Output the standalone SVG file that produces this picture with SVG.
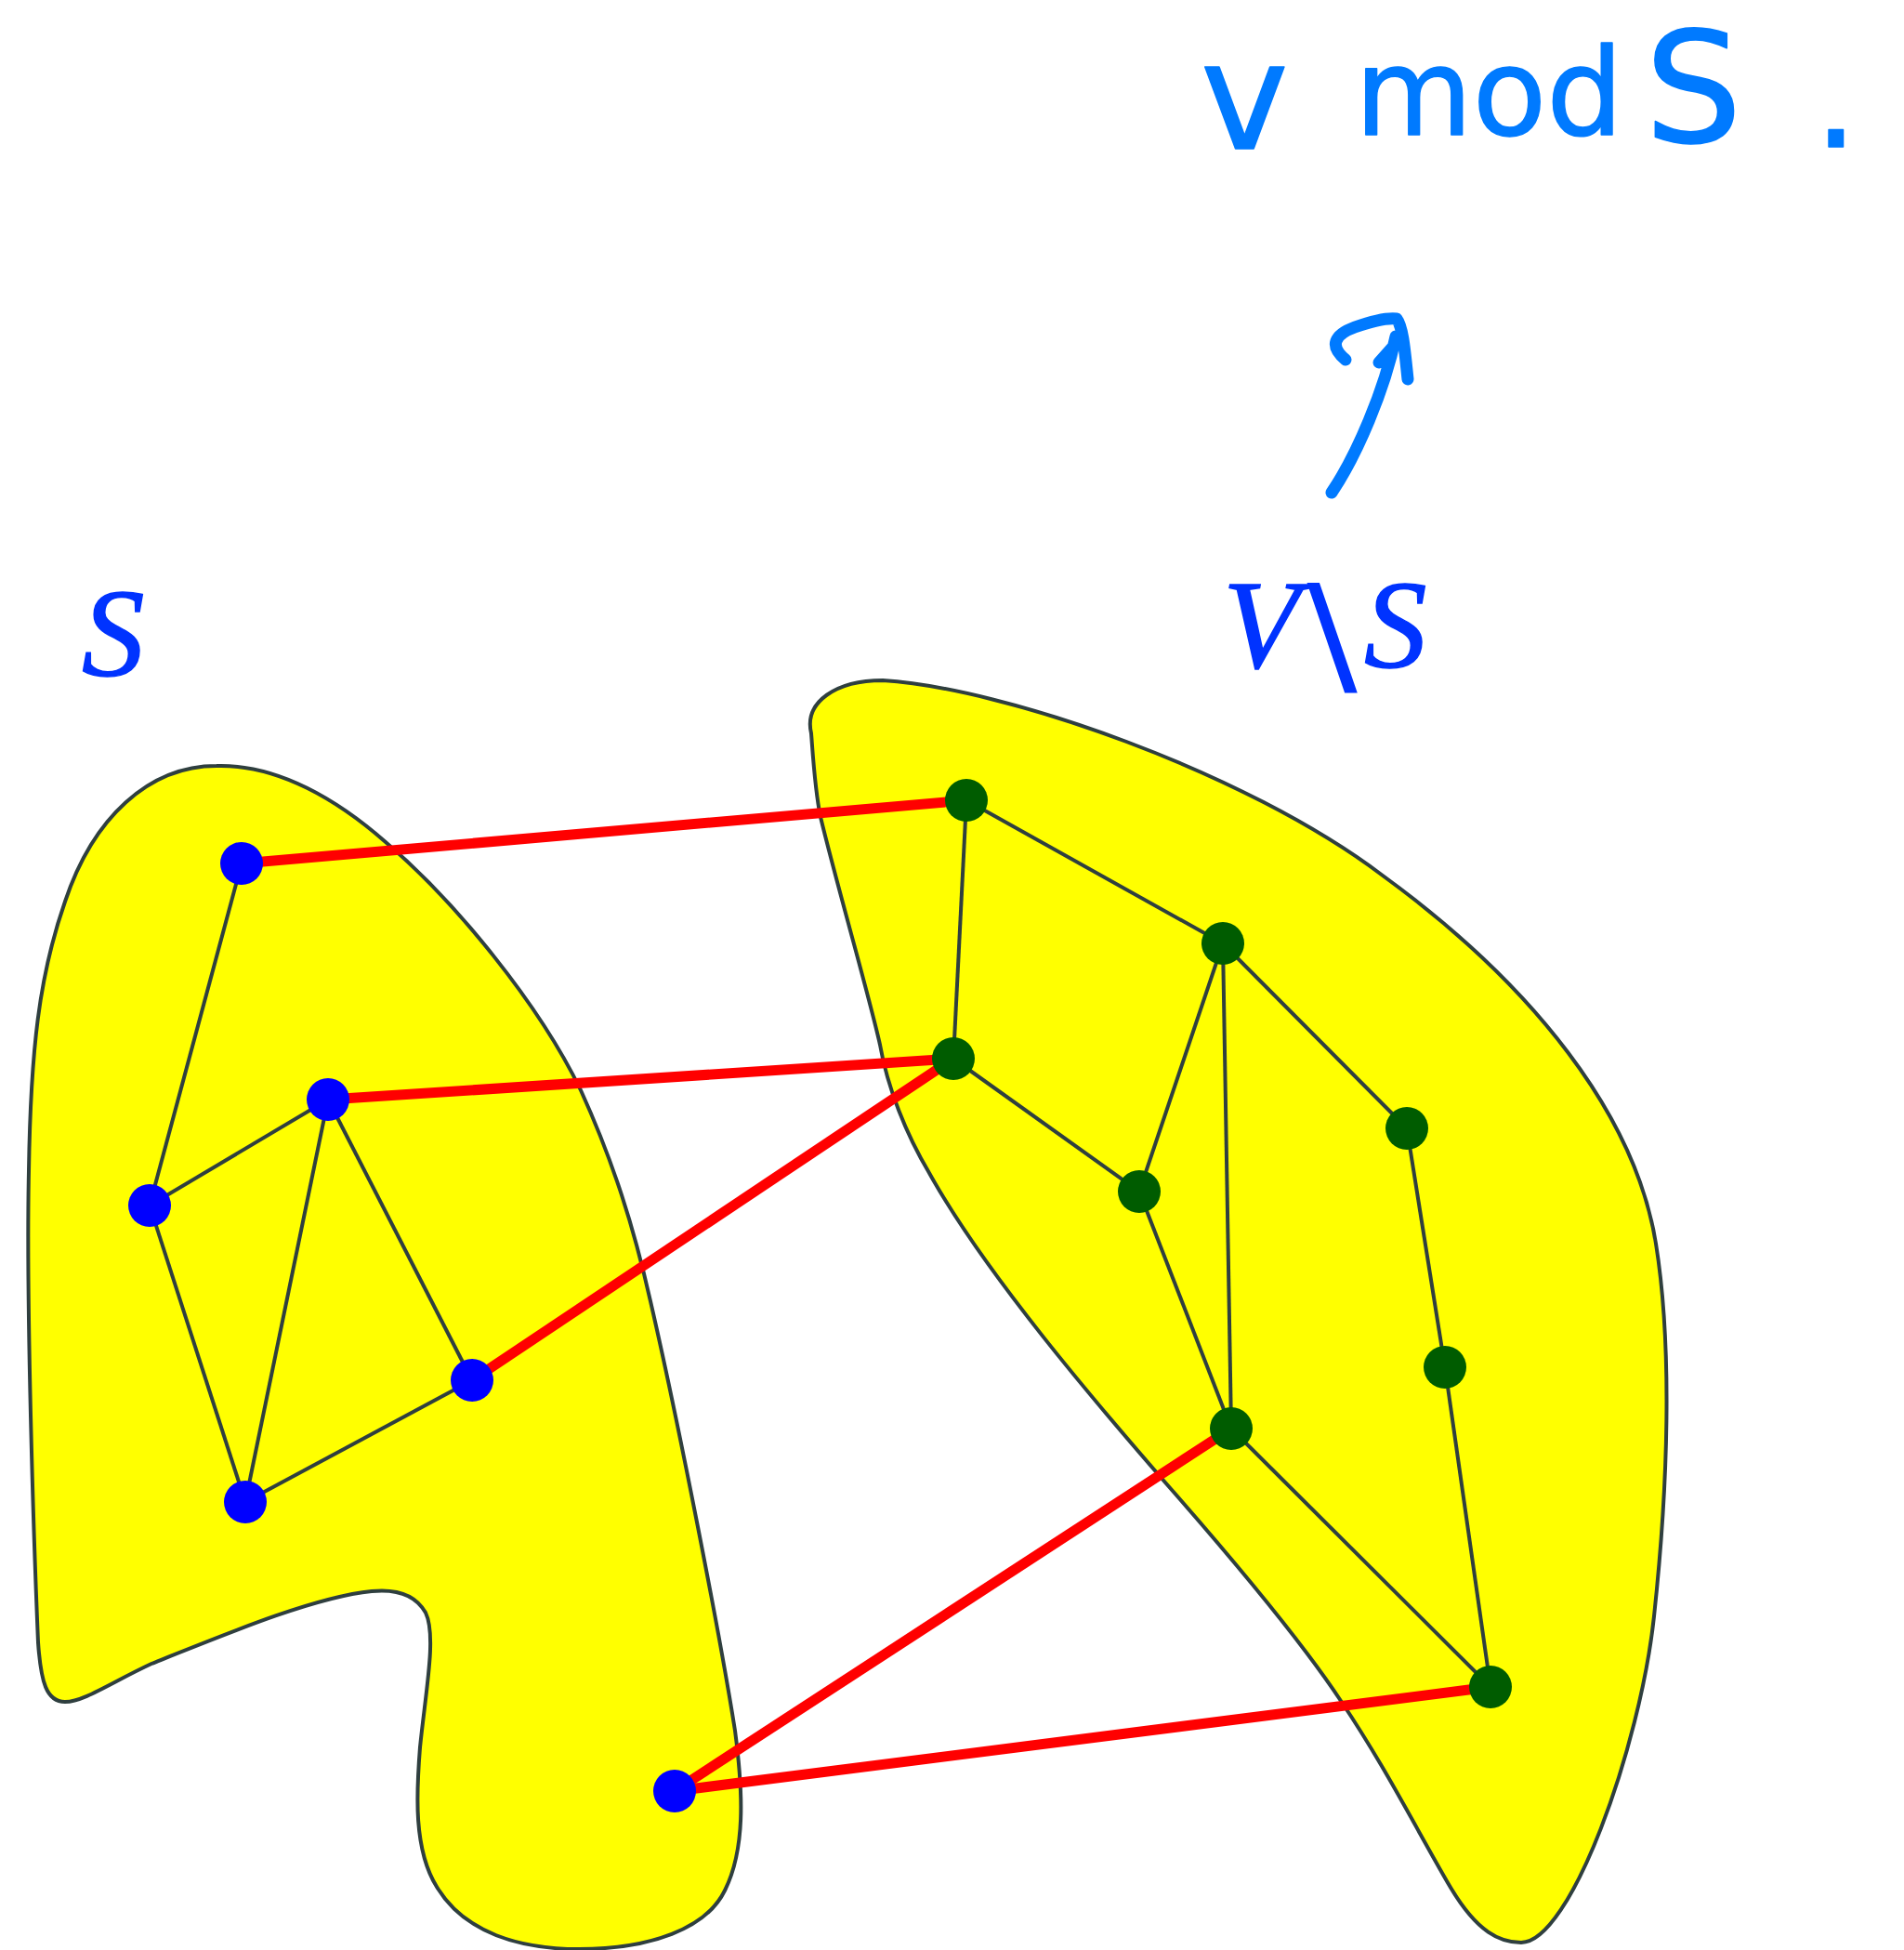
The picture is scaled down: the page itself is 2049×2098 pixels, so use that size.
<svg xmlns="http://www.w3.org/2000/svg" width="2049" height="2098" viewBox="0 0 2049 2098">
<style>
.blob{fill:#ffff00;stroke:#2f3f3f;stroke-width:4;stroke-linejoin:round}
.e{stroke:#2f3f3f;stroke-width:4;fill:none}
.r{stroke:#ff0000;stroke-width:11;fill:none}
.b{fill:#0000ff}
.g{fill:#005c00}
.lbl{font-family:"Liberation Serif","Times New Roman",serif;font-style:italic;fill:#0033ff;stroke:#0033ff;stroke-width:1.5;font-size:135px}
.hw{font-family:"DejaVu Sans",sans-serif;fill:#007aff;stroke:#007aff;stroke-width:1.5;stroke-linejoin:round}
.hwl{fill:none;stroke:#007aff;stroke-width:13;stroke-linecap:round;stroke-linejoin:round}
</style>
<rect width="2049" height="2098" fill="#ffffff"/>
<g id="region-S">
<path class="blob" d="M 233,824 C 300,822 365,862 415,906 C 490,970 580,1080 625,1173 C 660,1250 682,1320 700,1400 C 730,1530 775,1760 791,1862 C 800,1930 802,1990 780,2034 C 760,2075 700,2097 623,2097 C 560,2097 500,2080 470,2030 C 445,1990 448,1930 452,1880 C 458,1820 470,1760 458,1735 C 445,1712 420,1710 400,1712 C 340,1718 250,1755 163,1790 C 120,1810 90,1831 70,1831 C 50,1831 44,1810 41,1767 C 36,1650 28,1400 31,1260 C 33,1130 42,1050 70,970 C 100,880 160,824 233,824 Z"/>
</g>
<g id="region-VS">
<path class="blob" d="M 873,789 C 865,755 900,732 950,732 C 1080,740 1340,830 1488,942 C 1650,1060 1760,1200 1782,1338 C 1800,1450 1795,1600 1780,1739 C 1765,1880 1690,2090 1637,2090 C 1615,2090 1590,2080 1560,2029 C 1520,1960 1490,1900 1443,1830 C 1400,1765 1320,1670 1254,1595 C 1180,1510 1060,1370 1000,1262 C 975,1220 955,1170 947,1124 C 935,1070 900,950 883,879 C 877,850 875,815 873,789 Z"/>
</g>
<g id="connectors">
<line class="e" x1="260" y1="929" x2="161" y2="1297"/>
<line class="e" x1="161" y1="1297" x2="353" y2="1183"/>
<line class="e" x1="161" y1="1297" x2="264" y2="1616"/>
<line class="e" x1="353" y1="1183" x2="264" y2="1616"/>
<line class="e" x1="353" y1="1183" x2="508" y2="1485"/>
<line class="e" x1="508" y1="1485" x2="264" y2="1616"/>
<line class="e" x1="1040" y1="861" x2="1026" y2="1139"/>
<line class="e" x1="1040" y1="861" x2="1316" y2="1015"/>
<line class="e" x1="1316" y1="1015" x2="1226" y2="1282"/>
<line class="e" x1="1316" y1="1015" x2="1325" y2="1537"/>
<line class="e" x1="1316" y1="1015" x2="1514" y2="1214"/>
<line class="e" x1="1026" y1="1139" x2="1226" y2="1282"/>
<line class="e" x1="1226" y1="1282" x2="1325" y2="1537"/>
<line class="e" x1="1514" y1="1214" x2="1555" y2="1471"/>
<line class="e" x1="1555" y1="1471" x2="1604" y2="1815"/>
<line class="e" x1="1325" y1="1537" x2="1604" y2="1815"/>
<line class="r" x1="260" y1="929" x2="1040" y2="861"/>
<line class="r" x1="353" y1="1183" x2="1026" y2="1139"/>
<line class="r" x1="508" y1="1485" x2="1026" y2="1139"/>
<line class="r" x1="726" y1="1927" x2="1325" y2="1537"/>
<line class="r" x1="726" y1="1927" x2="1604" y2="1815"/>
</g>
<g id="s1"><circle class="b" cx="260" cy="929" r="23"/></g>
<g id="s2"><circle class="b" cx="353" cy="1183" r="23"/></g>
<g id="s3"><circle class="b" cx="161" cy="1297" r="23"/></g>
<g id="s4"><circle class="b" cx="508" cy="1485" r="23"/></g>
<g id="s5"><circle class="b" cx="264" cy="1616" r="23"/></g>
<g id="s6"><circle class="b" cx="726" cy="1927" r="23"/></g>
<g id="t1"><circle class="g" cx="1040" cy="861" r="23"/></g>
<g id="t2"><circle class="g" cx="1316" cy="1015" r="23"/></g>
<g id="t3"><circle class="g" cx="1026" cy="1139" r="23"/></g>
<g id="t4"><circle class="g" cx="1514" cy="1214" r="23"/></g>
<g id="t5"><circle class="g" cx="1226" cy="1282" r="23"/></g>
<g id="t6"><circle class="g" cx="1555" cy="1471" r="23"/></g>
<g id="t7"><circle class="g" cx="1325" cy="1537" r="23"/></g>
<g id="t8"><circle class="g" cx="1604" cy="1815" r="23"/></g>
<g id="label-S">
<text class="lbl" x="88" y="727">S</text>
</g>
<g id="label-VS">
<text class="lbl" x="1316" y="718">V<tspan x="1410" y="741" font-style="normal" font-size="170" stroke-width="5">\</tspan><tspan x="1468" y="718">S</tspan></text>
</g>
<g id="note">
<text class="hw" x="1292" y="160" font-size="160">v</text>
<text class="hw" x="1458" y="145" font-size="130">mod</text>
<text class="hw" x="1770" y="153" font-size="165">S</text>
<text class="hw" x="1952" y="158" font-size="150">.</text>
<path class="hwl" d="M 1433,530 C 1460,490 1490,420 1502,362 M 1484,390 L 1500,372 M 1448,387 C 1430,372 1436,360 1458,352 C 1478,345 1495,342 1503,343 C 1510,352 1512,380 1515,408"/>
</g>
</svg>
